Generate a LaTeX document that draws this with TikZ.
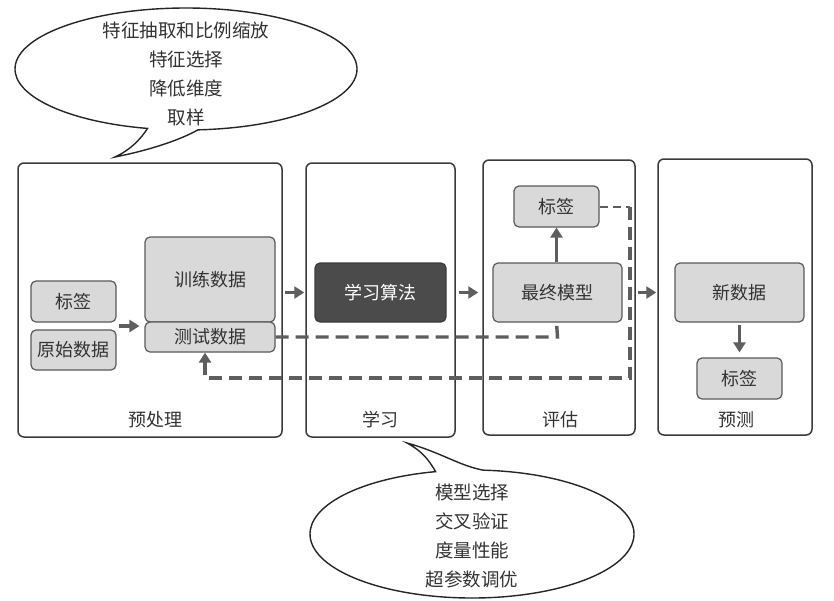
\documentclass[tikz,border=0pt]{standalone}
\usepackage{fontspec}
\setmainfont{Noto Sans CJK SC}
\usetikzlibrary{arrows.meta,calc}
\definecolor{pborder}{HTML}{3A3A3A}
\definecolor{bfill}{HTML}{D9D9D9}
\definecolor{bborder}{HTML}{5A5A5A}
\definecolor{darkfill}{HTML}{4B4B4B}
\definecolor{arrgray}{HTML}{5E5E5E}
\definecolor{txtgray}{HTML}{333333}
\begin{document}
\begin{tikzpicture}[x=1pt,y=-1pt,
  every node/.style={font=\fontsize{18}{21}\selectfont, text=txtgray},
  panel/.style={draw=pborder, line width=1.5pt, rounded corners=6pt, fill=white, inner sep=0pt},
  gbox/.style={draw=bborder, line width=1.2pt, rounded corners=5pt, fill=bfill, inner sep=0pt},
  darkbox/.style={draw=darkfill!80!black, line width=1.2pt, rounded corners=5pt, fill=darkfill, inner sep=0pt, text=white},
  arr/.style={draw=arrgray, line width=3.2pt, -{Triangle[length=10pt,width=12pt]}},
  dashline/.style={draw=arrgray, line width=3.4pt, dash pattern=on 13pt off 7pt},
  thindash/.style={draw=arrgray, line width=2pt, dash pattern=on 8pt off 5pt},
  bubble/.style={draw=black!85, line width=1.4pt, fill=white},
  bubtext/.style={align=center, font=\fontsize{18.5}{29}\selectfont, text=black!80}
]
\useasboundingbox (0,0) rectangle (834,600);

% panels
\node[panel, minimum width=264pt, minimum height=274pt] (pre) at (150,300) {};
\node[panel, minimum width=149pt, minimum height=274pt] (learn) at (380.5,300) {};
\node[panel, minimum width=152pt, minimum height=275pt] (eval) at (559,297.5) {};
\node[panel, minimum width=154pt, minimum height=276pt] (pred) at (735,297) {};

\node (lpre) at (155,420) {预处理};
\node (llearn) at (380,420) {学习};
\node (leval) at (560,420) {评估};
\node (lpred) at (736,420) {预测};

% boxes
\node[gbox, minimum width=85pt, minimum height=41pt] (lbl) at (73.5,301.5) {标签};
\node[gbox, minimum width=85pt, minimum height=40pt] (raw) at (73.5,350) {原始数据};
\node[gbox, minimum width=130pt, minimum height=85pt] (train) at (210,279.5) {训练数据};
\node[gbox, minimum width=130pt, minimum height=30pt] (test) at (210,337) {测试数据};
\node[darkbox, minimum width=131pt, minimum height=59pt] (algo) at (380.5,292.5) {学习算法};
\node[gbox, minimum width=85pt, minimum height=41pt] (elbl) at (556.5,206.5) {标签};
\node[gbox, minimum width=129pt, minimum height=59pt] (model) at (557.5,292.5) {最终模型};
\node[gbox, minimum width=129pt, minimum height=59pt] (newd) at (739.5,292.5) {新数据};
\node[gbox, minimum width=85pt, minimum height=41pt] (plbl) at (739.5,378.5) {标签};

% solid arrows
\coordinate (mid) at ($(lbl.south east)!0.5!(raw.north east)$);
\draw[arr, shorten <=2pt, shorten >=5pt] (mid) -- (mid -| train.west);
\draw[arr, shorten <=2pt, shorten >=1pt] (pre.east |- algo) -- (learn.west |- algo);
\draw[arr, shorten <=3pt, shorten >=4pt] (learn.east |- algo) -- (eval.west |- algo);
\draw[arr, shorten <=2pt, shorten >=1pt] (eval.east |- algo) -- (pred.west |- algo);
\draw[arr, shorten >=0pt] ([xshift=-1pt]model.north) -- ([xshift=-1pt]model.north |- elbl.south);
\draw[arr, shorten <=2pt, shorten >=5pt] (newd.south) -- (plbl.north);

% dashed feedback
\draw[dashline] (test.east) -- (test.east -| model.south) -- ([xshift=-1pt]model.south);
\coordinate (c0) at (630,206.5);
\coordinate (c1) at (630,378);
\draw[thindash] (elbl.east) -- (c0);
\draw[dashline] (c0) -- (c1) -| ([xshift=-5pt]test.south |- 0,366);
\draw[arr] ([xshift=-5pt]test.south |- 0,370) -- ([xshift=-5pt]test.south);

% top callout
\path[bubble] (186,69) ++(86:171 and 61) coordinate (tb)
  arc[start angle=86, end angle=-257, x radius=171, y radius=61]
  .. controls (140,140) and (130,150) .. (115,157)
  .. controls (150,150) and (180,140) .. (tb) -- cycle;
\node[bubtext] (topt) at (186,73.5) {特征抽取和比例缩放\\特征选择\\降低维度\\取样};

% bottom callout
\path[bubble] (472,534) ++(-86:162 and 64) coordinate (bb)
  arc[start angle=-86, end angle=257, x radius=162, y radius=64]
  .. controls (428,458) and (420,450) .. (407,443)
  .. controls (440,452) and (460,466) .. (bb) -- cycle;
\node[bubtext] (bott) at (472,535.5) {模型选择\\交叉验证\\度量性能\\超参数调优};
\end{tikzpicture}
\end{document}
